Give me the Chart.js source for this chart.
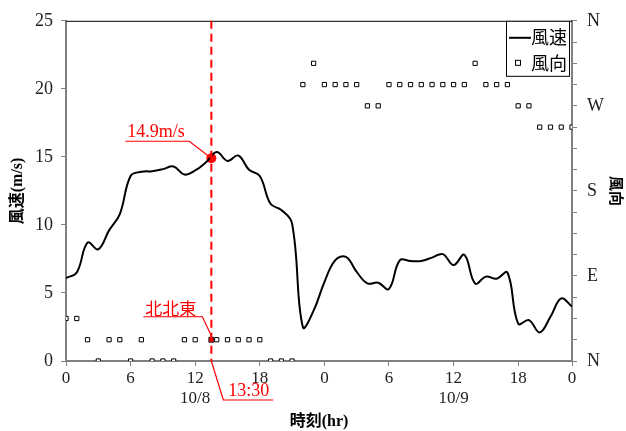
<!DOCTYPE html>
<html>
<head>
<meta charset="utf-8">
<script src="https://cdn.jsdelivr.net/npm/chart.js@4"></script>
<style>
    html, body { margin: 0; padding: 0; background: #fff; }
    #wrap { width: 626px; height: 431px; }
</style>
</head>
<body>
<div id="wrap"><canvas id="windChart" width="626" height="431"></canvas></div>
<script>
const hours = [];
for (let h = 0; h < 48; h++) hours.push(h);

// 風速 (m/s), hourly from 10/8 0:00
const windSpeed = [
    6.1, 6.5, 8.7, 8.2, 9.6, 10.8, 13.6, 13.9, 13.95, 14.1, 14.3, 13.7,
    14.0, 14.6, 15.35, 14.7, 15.1, 14.05, 13.6, 11.55, 11.1, 10.1, 2.5, 3.7,
    5.8, 7.4, 7.65, 6.55, 5.7, 5.75, 5.3, 7.4, 7.35, 7.35, 7.6, 7.85,
    7.05, 7.8, 5.7, 6.2, 6.05, 6.5, 2.75, 3.0, 2.1, 3.25, 4.6, 4.0
];

// 風向, hourly (null = no mark)
const windDir = [
    'NE', 'NE', 'NNE', 'N', 'NNE', 'NNE', 'N', 'NNE', 'N', 'N', 'N', 'NNE',
    'NNE', null, 'NNE', 'NNE', 'NNE', 'NNE', 'NNE', 'N', 'N', 'N', 'WNW', 'NW',
    'WNW', 'WNW', 'WNW', 'WNW', 'W', 'W', 'WNW', 'WNW', 'WNW', 'WNW', 'WNW', 'WNW',
    'WNW', 'WNW', 'NW', 'WNW', 'WNW', 'WNW', 'W', 'W', 'WSW', 'WSW', 'WSW', 'WSW'
];

const compass = ['N', 'NNE', 'NE', 'ENE', 'E', 'ESE', 'SE', 'SSE',
                 'S', 'SSW', 'SW', 'WSW', 'W', 'WNW', 'NW', 'NNW'];
const dirLabels = { 0: 'N', 90: 'E', 180: 'S', 270: 'W', 360: 'N' };

const xTickHours = [0, 6, 12, 18, 24, 30, 36, 42, 47];
const xTickLabels = ['0', '6', ['12', '10/8'], '18', '0', '6', ['12', '10/9'], '18', '0'];

// highlighted moment
const markHour = 13.5;
const markSpeed = 14.9;
const markDir = 'NNE';
const markTimeText = '13:30';
const markSpeedText = '14.9m/s';
const markDirText = '北北東';

const SERIF = "'Liberation Serif', 'Noto Sans CJK JP', serif";
const CJK = "'Noto Sans CJK JP', sans-serif";
const RED = '#ff0000';
const AXIS_GRAY = '#808080';

function toDeg(name) {
    return compass.indexOf(name) * 22.5;
}

const speedPoints = hours.map((h, i) => ({ x: h, y: windSpeed[i] }));
const dirPoints = [];
hours.forEach((h, i) => {
    if (windDir[i]) dirPoints.push({ x: h, y: toDeg(windDir[i]) });
});

const annotationPlugin = {
    id: 'annotations',
    afterDatasetsDraw(chart) {
        const ctx = chart.ctx;
        const area = chart.chartArea;
        const xs = chart.scales.x;
        const px = xs.getPixelForValue(markHour);
        const pySpeed = chart.scales.y.getPixelForValue(markSpeed);
        const pyDir = chart.scales.y2.getPixelForValue(toDeg(markDir));

        ctx.save();
        // top border
        ctx.strokeStyle = '#000';
        ctx.lineWidth = 1;
        ctx.beginPath();
        ctx.moveTo(area.left, area.top + 0.5);
        ctx.lineTo(area.right, area.top + 0.5);
        ctx.stroke();

        // dashed time line
        ctx.strokeStyle = RED;
        ctx.lineWidth = 2;
        ctx.setLineDash([8, 5]);
        ctx.beginPath();
        ctx.moveTo(px, area.top);
        ctx.lineTo(px, area.bottom);
        ctx.stroke();
        ctx.setLineDash([]);

        ctx.lineWidth = 1.2;
        ctx.fillStyle = RED;

        // 13:30 callout below axis
        ctx.beginPath();
        ctx.moveTo(px, area.bottom);
        ctx.lineTo(px + 12, area.bottom + 39);
        ctx.lineTo(px + 62, area.bottom + 39);
        ctx.stroke();
        ctx.font = '18px ' + SERIF;
        ctx.textAlign = 'left';
        ctx.textBaseline = 'alphabetic';
        ctx.fillText(markTimeText, px + 17, area.bottom + 35);

        // speed callout
        ctx.beginPath();
        ctx.moveTo(px - 86, pySpeed - 17);
        ctx.lineTo(px - 22, pySpeed - 17);
        ctx.lineTo(px, pySpeed);
        ctx.stroke();
        ctx.fillText(markSpeedText, px - 84, pySpeed - 21);

        // direction callout
        ctx.beginPath();
        ctx.moveTo(px - 68, pyDir - 23);
        ctx.lineTo(px - 9, pyDir - 23);
        ctx.lineTo(px, pyDir - 4);
        ctx.stroke();
        ctx.font = '17px ' + CJK;
        ctx.fillText(markDirText, px - 66, pyDir - 25);

        // legend
        const lx = area.right - 66, ly = area.top;
        ctx.fillStyle = '#fff';
        ctx.fillRect(lx, ly, 63, 55);
        ctx.strokeStyle = '#000';
        ctx.lineWidth = 1;
        ctx.strokeRect(lx + 0.5, ly + 0.5, 63, 55);
        ctx.lineWidth = 2;
        ctx.beginPath();
        ctx.moveTo(lx + 3, ly + 17);
        ctx.lineTo(lx + 25, ly + 17);
        ctx.stroke();
        ctx.lineWidth = 1;
        ctx.strokeRect(lx + 9.5, ly + 39.5, 5, 5);
        ctx.fillStyle = '#000';
        ctx.font = '18px ' + CJK;
        ctx.textBaseline = 'middle';
        ctx.fillText('風速', lx + 25, ly + 16);
        ctx.fillText('風向', lx + 25, ly + 42);
        ctx.restore();
    }
};

function createWindChart() {
    const ctx = document.getElementById('windChart').getContext('2d');
    new Chart(ctx, {
        type: 'scatter',
        data: {
            datasets: [{
                label: '風速',
                data: speedPoints,
                yAxisID: 'y',
                showLine: true,
                borderColor: '#000',
                borderWidth: 2,
                tension: 0.4,
                pointRadius: 0
            }, {
                label: '風向',
                data: dirPoints,
                yAxisID: 'y2',
                pointStyle: 'rect',
                pointRadius: 3,
                borderWidth: 1,
                borderColor: '#000',
                backgroundColor: '#fff'
            }, {
                label: 'mark-speed',
                data: [{ x: markHour, y: markSpeed }],
                yAxisID: 'y',
                pointRadius: 5,
                borderWidth: 0,
                backgroundColor: RED
            }, {
                label: 'mark-dir',
                data: [{ x: markHour, y: toDeg(markDir) }],
                yAxisID: 'y2',
                pointStyle: 'rect',
                pointRadius: 3.5,
                borderWidth: 1,
                borderColor: '#222',
                backgroundColor: RED
            }]
        },
        options: {
            responsive: false,
            animation: false,
            layout: { padding: { top: 20 } },
            plugins: {
                legend: { display: false },
                tooltip: { enabled: false }
            },
            scales: {
                x: {
                    type: 'linear',
                    min: 0,
                    max: 47,
                    afterBuildTicks(scale) {
                        scale.ticks = xTickHours.map(v => ({ value: v }));
                    },
                    afterFit(scale) { scale.height = 70; },
                    ticks: {
                        autoSkip: false,
                        maxRotation: 0,
                        color: '#222',
                        font: { family: SERIF, size: 17 },
                        padding: 2,
                        callback: (value) => xTickLabels[xTickHours.indexOf(value)]
                    },
                    grid: { drawOnChartArea: false, tickLength: 5, color: AXIS_GRAY },
                    border: { color: AXIS_GRAY, width: 2 },
                    title: {
                        display: true,
                        text: '時刻(hr)',
                        color: '#000',
                        font: { family: SERIF, size: 16, weight: 'bold' },
                        padding: { top: 0, bottom: 0 }
                    }
                },
                y: {
                    position: 'left',
                    min: 0,
                    max: 25,
                    afterFit(scale) { scale.width = 66; },
                    ticks: {
                        stepSize: 5,
                        color: '#222',
                        font: { family: SERIF, size: 18 },
                        padding: 8
                    },
                    grid: { drawOnChartArea: false, tickLength: 5, color: AXIS_GRAY },
                    border: { color: AXIS_GRAY, width: 2 },
                    title: {
                        display: true,
                        text: '風速(m/s)',
                        color: '#000',
                        font: { family: SERIF, size: 16, weight: 'bold' },
                        padding: { top: 8, bottom: 0 }
                    }
                },
                y2: {
                    position: 'right',
                    min: 0,
                    max: 360,
                    afterFit(scale) { scale.width = 54; },
                    afterBuildTicks(scale) {
                        const t = [];
                        for (let v = 0; v <= 360; v += 22.5) t.push({ value: v });
                        scale.ticks = t;
                    },
                    ticks: {
                        autoSkip: false,
                        color: '#222',
                        font: { family: SERIF, size: 18 },
                        padding: 10,
                        callback: (value) => dirLabels[value] || ''
                    },
                    grid: { drawOnChartArea: false, tickLength: 5, color: AXIS_GRAY },
                    border: { color: AXIS_GRAY, width: 2 },
                    title: {
                        display: true,
                        text: '風向',
                        color: '#000',
                        font: { family: CJK, size: 15, weight: 'bold' },
                        padding: { top: 0, bottom: 0 }
                    }
                }
            }
        },
        plugins: [annotationPlugin]
    });
}

document.addEventListener('DOMContentLoaded', createWindChart);
</script>
</body>
</html>
